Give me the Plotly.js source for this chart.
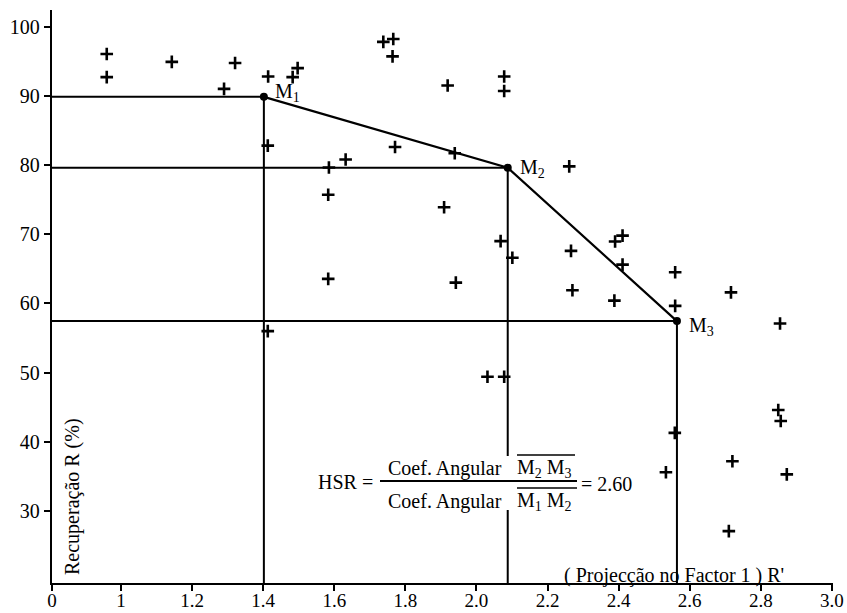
<!DOCTYPE html>
<html>
<head>
<meta charset="utf-8">
<script src="https://cdn.plot.ly/plotly-3.0.1.min.js"></script>
<style>html,body{margin:0;padding:0;background:#fff;}#chart{width:847px;height:613px;}</style>
</head>
<body>
<div id="chart"></div>
<script>
// ---- data ----
const pointX = [0.960, 0.960, 1.143, 1.290, 1.321, 1.414, 1.483, 1.497, 1.413, 1.738, 1.766, 1.764,
  1.919, 2.078, 2.078, 1.771, 1.939, 1.632, 1.585, 2.261, 1.583, 1.413, 1.909, 1.583, 1.942,
  2.068, 2.101, 2.266, 2.270, 2.031, 2.078, 2.390, 2.411, 2.411, 2.388, 2.559, 2.559, 2.716,
  2.854, 2.558, 2.533, 2.720, 2.710, 2.849, 2.856, 2.873];
const pointY = [96.05, 92.7, 94.9, 91.0, 94.75, 92.8, 92.7, 94.0, 82.8, 97.8, 98.2, 95.7,
  91.5, 92.8, 90.7, 82.6, 81.7, 80.8, 79.65, 79.8, 75.7, 56.0, 73.9, 63.55, 63.0,
  69.0, 66.6, 67.6, 61.9, 49.4, 49.4, 68.95, 69.8, 65.6, 60.4, 64.5, 59.65, 61.6,
  57.1, 41.3, 35.6, 37.2, 27.1, 44.6, 43.0, 35.3];
const hullX = [1.402, 2.088, 2.564];
const hullY = [89.85, 79.6, 57.45];
const hullLabels = ["M<sub>1</sub>", "M<sub>2</sub>", "M<sub>3</sub>"];
const xTickVals = [0.806, 1, 1.2, 1.4, 1.6, 1.8, 2.0, 2.2, 2.4, 2.6, 2.8, 3.0];
const xTickText = ["0", "1", "1.2", "1.4", "1.6", "1.8", "2.0", "2.2", "2.4", "2.6", "2.8", "3.0"];
const yTickVals = [30, 40, 50, 60, 70, 80, 90, 100];
const yTickText = ["30", "40", "50", "60", "70", "80", "90", "100"];
const hsrValue = "2.60";

// ---- layout geometry ----
const ML = 52, MT = 10, MR = 14, MB = 30, WID = 847, HEI = 613;
const xRange = [0.806, 3.003];
const yRange = [19.6, 102.4];
const PW = WID - ML - MR, PH = HEI - MT - MB;
const px2x = p => xRange[0] + (p - ML) / PW * (xRange[1] - xRange[0]);
const py2y = p => yRange[1] - (p - MT) / PH * (yRange[1] - yRange[0]);

const FONT = "Liberation Serif";

// guide lines: horizontal from y axis to M, vertical from M down to x axis
const guideX = [], guideY = [];
for (let i = 0; i < hullX.length; i++) {
  guideX.push(xRange[0], hullX[i], hullX[i], null);
  guideY.push(hullY[i], hullY[i], yRange[0], null);
}

const traces = [
  {x: guideX, y: guideY, mode: "lines", line: {color: "#000", width: 2}, hoverinfo: "skip", cliponaxis: false},
  {x: hullX, y: hullY, mode: "lines+markers", line: {color: "#000", width: 2.2},
   marker: {symbol: "circle", size: 8, color: "#000"}},
  {x: pointX, y: pointY, mode: "markers",
   marker: {symbol: "cross-thin", size: 9, color: "#000", line: {color: "#000", width: 2.6}}}
];

const anns = [];
const offs = [[273, 92], [518, 168], [687, 326]];
hullLabels.forEach((t, i) => {
  anns.push({x: px2x(offs[i][0]), y: py2y(offs[i][1]), text: t, showarrow: false,
    xanchor: "left", yanchor: "middle", font: {family: FONT, size: 20, color: "#000"}});
});
// formula
anns.push({x: px2x(345), y: py2y(482), text: "HSR =", showarrow: false, xanchor: "center", yanchor: "middle",
  font: {family: FONT, size: 20, color: "#000"}});
anns.push({x: px2x(386), y: py2y(468), text: "Coef. Angular", showarrow: false, xanchor: "left", yanchor: "middle",
  font: {family: FONT, size: 20, color: "#000"}});
anns.push({x: px2x(515), y: py2y(468), text: "M<sub>2</sub> M<sub>3</sub>", showarrow: false, xanchor: "left", yanchor: "middle",
  font: {family: FONT, size: 20, color: "#000"}});
anns.push({x: px2x(386), y: py2y(501), text: "Coef. Angular", showarrow: false, xanchor: "left", yanchor: "middle",
  font: {family: FONT, size: 20, color: "#000"}});
anns.push({x: px2x(515), y: py2y(501), text: "M<sub>1</sub> M<sub>2</sub>", showarrow: false, xanchor: "left", yanchor: "middle",
  font: {family: FONT, size: 20, color: "#000"}});
anns.push({x: px2x(579), y: py2y(484), text: "= " + hsrValue, showarrow: false, xanchor: "left", yanchor: "middle",
  font: {family: FONT, size: 20, color: "#000"}});
// axis titles inside plot
anns.push({x: px2x(72), y: py2y(497), text: "Recuperação R (%)", showarrow: false, textangle: -90,
  xanchor: "center", yanchor: "middle", font: {family: FONT, size: 20, color: "#000"}});
anns.push({x: px2x(562), y: py2y(575), text: "( Projecção no Factor 1 ) R'", showarrow: false,
  xanchor: "left", yanchor: "middle", font: {family: FONT, size: 20, color: "#000"}});

const shapes = [
  {type: "rect", layer: "above", x0: px2x(500), x1: px2x(515), y0: py2y(456), y1: py2y(510),
   fillcolor: "#fff", line: {width: 0}},
  {type: "line", layer: "above", x0: px2x(380), x1: px2x(577), y0: py2y(481), y1: py2y(481),
   line: {color: "#000", width: 2}},
  {type: "line", layer: "above", x0: px2x(517), x1: px2x(575), y0: py2y(455), y1: py2y(455),
   line: {color: "#000", width: 1.5}},
  {type: "line", layer: "above", x0: px2x(517), x1: px2x(577), y0: py2y(488), y1: py2y(488),
   line: {color: "#000", width: 1.5}}
];

const layout = {
  width: WID, height: HEI,
  margin: {l: ML, r: MR, t: MT, b: MB, pad: 0},
  paper_bgcolor: "#fff", plot_bgcolor: "#fff",
  showlegend: false,
  font: {family: FONT, color: "#000"},
  xaxis: {range: xRange, showgrid: false, zeroline: false, showline: true, linecolor: "#000", linewidth: 2.2,
    ticks: "outside", ticklen: 6, tickwidth: 2, tickcolor: "#000",
    tickmode: "array", tickvals: xTickVals, ticktext: xTickText, ticklabelstandoff: -7,
    tickfont: {family: FONT, size: 19, color: "#000"}},
  yaxis: {range: yRange, showgrid: false, zeroline: false, showline: true, linecolor: "#000", linewidth: 2.2,
    ticks: "outside", ticklen: 6, tickwidth: 2, tickcolor: "#000",
    tickmode: "array", tickvals: yTickVals, ticktext: yTickText,
    tickfont: {family: FONT, size: 20, color: "#000"}},
  annotations: anns,
  shapes: shapes
};

Plotly.newPlot("chart", traces, layout, {staticPlot: true, displayModeBar: false});
</script>
</body>
</html>
